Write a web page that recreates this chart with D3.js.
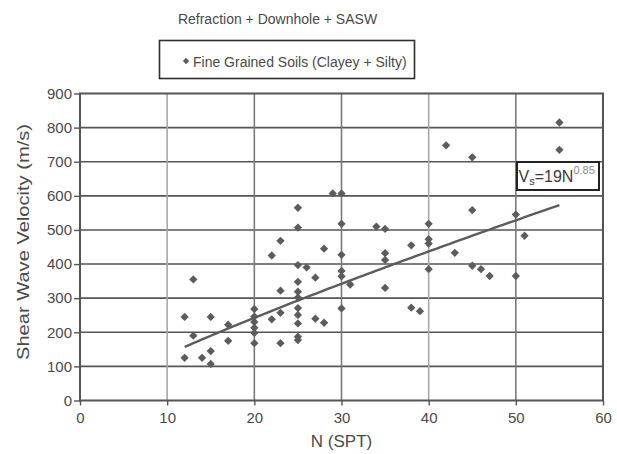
<!DOCTYPE html>
<html>
<head>
<meta charset="utf-8">
<script src="https://cdn.jsdelivr.net/npm/d3@7"></script>
<style>
  html, body { margin: 0; padding: 0; background: #fff; }
  svg { display: block; font-family: "Liberation Sans", Arial, sans-serif; }
</style>
</head>
<body>
<svg id="chart" width="617" height="454"></svg>
<script>
// Shear wave velocity against SPT blow count, fine grained soils
const chartTitle = "Refraction + Downhole + SASW";
const seriesName = "Fine Grained Soils (Clayey + Silty)";
const xTitle = "N (SPT)";
const yTitle = "Shear Wave Velocity (m/s)";

const xTicks = [0, 10, 20, 30, 40, 50, 60];
const yTicks = [0, 100, 200, 300, 400, 500, 600, 700, 800, 900];

// SPT N value of each measurement
const nSpt = [
  12, 12, 13, 13, 14, 15, 15, 15, 17, 17,
  20, 20, 20, 20, 20, 20, 22, 22, 23, 23, 23, 23,
  25, 25, 25, 25, 25, 25, 25, 25, 25, 25, 25,
  26, 27, 27, 28, 28, 29,
  30, 30, 30, 30, 30, 30, 31, 34, 35, 35, 35, 35,
  38, 38, 39, 40, 40, 40, 40, 42, 43, 45, 45, 45,
  46, 47, 50, 50, 51, 55, 55
];
// measured shear wave velocity (m/s), same order as nSpt
const vsMeasured = [
  245, 125, 355, 190, 125, 245, 145, 107, 222, 175,
  268, 246, 230, 213, 198, 168, 425, 238, 468, 322, 257, 168,
  565, 507, 397, 348, 319, 302, 271, 251, 226, 187, 177,
  390, 360, 240, 445, 228, 607,
  607, 518, 427, 380, 364, 270, 340, 510, 503, 432, 412, 330,
  455, 272, 262, 518, 473, 460, 385, 748, 433, 713, 558, 395,
  385, 365, 545, 365, 483, 815, 735
];

// fitted relation Vs = a * N^b
const fitCoef = 19;
const fitExp = 0.85;
const fitRange = [12, 55];

const svg = d3.select("#chart");
const ink = "#4a4a4a";

const x = d3.scaleLinear().domain([0, 60]).range([80, 603]);
const y = d3.scaleLinear().domain([0, 900]).range([400.5, 93.5]);

// title
svg.append("text")
  .attr("x", 277.5).attr("y", 24)
  .attr("text-anchor", "middle")
  .attr("font-size", 14).attr("fill", ink)
  .text(chartTitle);

// legend box
svg.append("rect")
  .attr("x", 159.5).attr("y", 40.5).attr("width", 255).attr("height", 38)
  .attr("fill", "#fff").attr("stroke", "#2e2e2e").attr("stroke-width", 1.6);
svg.append("path")
  .attr("d", d3.symbol().type(d3.symbolDiamond2).size(26)())
  .attr("transform", "translate(186,61)")
  .attr("fill", "#5e5e5e");
svg.append("text")
  .attr("x", 193).attr("y", 66.5)
  .attr("font-size", 14).attr("fill", ink)
  .text(seriesName);

// grid
const grid = svg.append("g");
grid.selectAll("line.h").data(yTicks.slice(1, -1)).join("line")
  .attr("class", "h")
  .attr("x1", x(0)).attr("x2", x(60))
  .attr("y1", d => y(d)).attr("y2", d => y(d))
  .attr("stroke", "#555").attr("stroke-width", 1.6);
grid.selectAll("line.v").data(xTicks.slice(1, -1)).join("line")
  .attr("class", "v")
  .attr("x1", d => x(d)).attr("x2", d => x(d))
  .attr("y1", y(0)).attr("y2", y(900))
  .attr("stroke", d => (d === 10 || d === 40) ? "#a8a8a8" : "#7a7a7a")
  .attr("stroke-width", 1.6);

// axes
const xAxis = svg.append("g")
  .attr("transform", `translate(0,${y(0)})`)
  .call(d3.axisBottom(x).tickValues(xTicks).tickSize(5).tickPadding(7).tickFormat(d3.format("d")));
const yAxis = svg.append("g")
  .attr("transform", `translate(${x(0)},0)`)
  .call(d3.axisLeft(y).tickValues(yTicks).tickSize(6).tickPadding(2).tickFormat(d3.format("d")));
[xAxis, yAxis].forEach(g => {
  g.select(".domain").remove();
  g.selectAll(".tick line").attr("stroke", "#555").attr("stroke-width", 1.4);
  g.selectAll(".tick text").attr("fill", ink).attr("font-size", 15)
    .attr("font-family", "Liberation Sans, Arial, sans-serif");
});

// plot frame
svg.append("rect")
  .attr("x", x(0)).attr("y", y(900))
  .attr("width", x(60) - x(0)).attr("height", y(0) - y(900))
  .attr("fill", "none").attr("stroke", "#555").attr("stroke-width", 2);

// axis titles
svg.append("text")
  .attr("x", x(30)).attr("y", 447)
  .attr("text-anchor", "middle")
  .attr("font-size", 17).attr("fill", ink)
  .text(xTitle);
svg.append("text")
  .attr("transform", "translate(28.5,242) rotate(-90)")
  .attr("text-anchor", "middle")
  .attr("font-size", 17).attr("fill", ink)
  .attr("textLength", 236).attr("lengthAdjust", "spacingAndGlyphs")
  .text(yTitle);

// measurements
const pts = d3.range(nSpt.length).map(i => ({ n: nSpt[i], v: vsMeasured[i] }));
svg.append("g").selectAll("path").data(pts).join("path")
  .attr("d", d3.symbol().type(d3.symbolDiamond2).size(44)())
  .attr("transform", d => `translate(${x(d.n)},${y(d.v)})`)
  .attr("fill", "#5c5c5c");

// fitted curve
const fitN = d3.range(fitRange[0], fitRange[1] + 0.01, 0.5);
svg.append("path")
  .datum(fitN)
  .attr("d", d3.line().x(d => x(d)).y(d => y(fitCoef * Math.pow(d, fitExp))))
  .attr("fill", "none").attr("stroke", "#5c5c5c").attr("stroke-width", 2.4);

// equation label
svg.append("rect")
  .attr("x", 517).attr("y", 162).attr("width", 82).attr("height", 28)
  .attr("fill", "#fff").attr("stroke", "#222").attr("stroke-width", 2);
const eq = svg.append("text")
  .attr("x", 518.5).attr("y", 182)
  .attr("font-size", 16).attr("fill", "#3a3a3a");
eq.append("tspan").text("V");
eq.append("tspan").attr("font-size", 11).attr("dy", 3).text("s");
eq.append("tspan").attr("dy", -3).text("=19N");
eq.append("tspan").attr("font-size", 11).attr("dy", -8).attr("fill", "#8a8a8a").text("0.85");
</script>
</body>
</html>
